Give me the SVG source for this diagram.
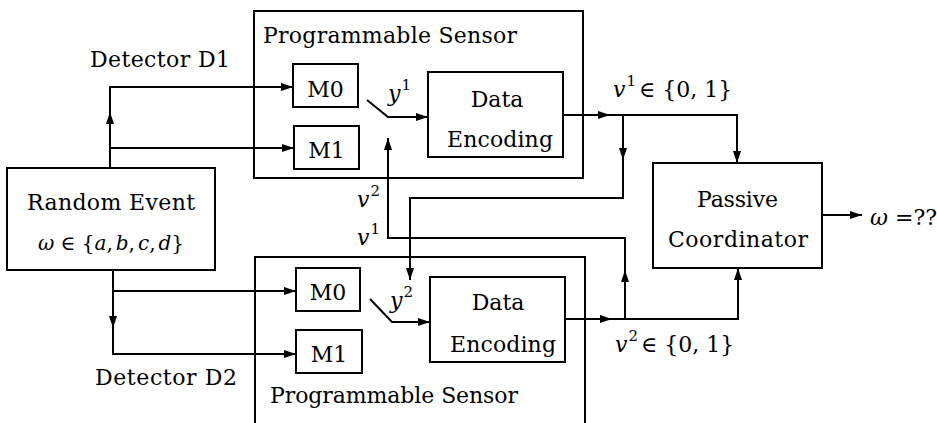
<svg xmlns="http://www.w3.org/2000/svg" width="937" height="423" viewBox="0 0 937 423">
<defs>
<marker id="ah" viewBox="0 0 12 8" refX="12" refY="4" markerWidth="12" markerHeight="8" markerUnits="userSpaceOnUse" orient="auto">
<path d="M0,0 L12,4 L0,8 z" fill="#000"/>
</marker>
<style>
.box{fill:none;stroke:#000;stroke-width:2}
.ar{fill:none;stroke:#000;stroke-width:2;marker-end:url(#ah)}
.t{font-family:'DejaVu Serif',serif;font-size:22px;fill:#000}
.s{font-size:20px}
.m{font-style:italic}
.sup{font-size:15px;font-style:normal}
</style>
</defs>
<rect width="937" height="423" fill="#fff"/>
<g id="sensor1">
<rect class="box" x="254" y="11" width="329" height="167"/>
<text class="t" x="263" y="43" textLength="254">Programmable Sensor</text>
</g>
<g id="sensor1-m0">
<rect class="box" x="293" y="64" width="65" height="43"/>
<text class="t" x="325.5" y="97" text-anchor="middle">M0</text>
</g>
<g id="sensor1-m1">
<rect class="box" x="294" y="126" width="65" height="43"/>
<text class="t" x="326.5" y="158" text-anchor="middle">M1</text>
</g>
<g id="sensor1-enc">
<rect class="box" x="428" y="72" width="135" height="85"/>
<text class="t" x="497" y="107" text-anchor="middle">Data</text>
<text class="t" x="447" y="147" textLength="106">Encoding</text>
</g>
<g id="sensor2">
<rect class="box" x="255" y="257" width="330" height="170"/>
<text class="t" x="270" y="403" textLength="248">Programmable Sensor</text>
</g>
<g id="sensor2-m0">
<rect class="box" x="296" y="268" width="64" height="43"/>
<text class="t" x="328" y="300" text-anchor="middle">M0</text>
</g>
<g id="sensor2-m1">
<rect class="box" x="296" y="330" width="66" height="43"/>
<text class="t" x="329" y="362" text-anchor="middle">M1</text>
</g>
<g id="sensor2-enc">
<rect class="box" x="430" y="277" width="135" height="85"/>
<text class="t" x="498" y="310" text-anchor="middle">Data</text>
<text class="t" x="450" y="352" textLength="106">Encoding</text>
</g>
<g id="random-event">
<rect class="box" x="7" y="168" width="208" height="102"/>
<text class="t" x="27" y="210" textLength="168">Random Event</text>
<text class="t s" x="111" y="250" text-anchor="middle"><tspan class="m">ω</tspan> ∈ {<tspan class="m">a</tspan>,<tspan class="m" dx="3">b</tspan>,<tspan class="m" dx="3">c</tspan>,<tspan class="m" dx="3">d</tspan>}</text>
</g>
<g id="coordinator">
<rect class="box" x="653" y="163" width="169" height="105"/>
<text class="t" x="697" y="207" textLength="81">Passive</text>
<text class="t" x="668" y="247" textLength="140">Coordinator</text>
</g>
<g id="connectors">
<line class="ar" x1="110" y1="168" x2="110" y2="112"/>
<polyline class="ar" points="110,113 110,87 293,87"/>
<line class="ar" x1="110" y1="148" x2="294" y2="148"/>
<line class="ar" x1="113" y1="270" x2="113" y2="328"/>
<polyline class="ar" points="113,327 113,354 296,354"/>
<line class="ar" x1="113" y1="291" x2="296" y2="291"/>
<polyline class="ar" points="367,100 388,117 428,117"/>
<polyline class="ar" points="370,299 392,322 430,322"/>
<line class="ar" x1="563" y1="115" x2="610" y2="115"/>
<polyline class="ar" points="609,115 737,115 737,163"/>
<line class="ar" x1="623" y1="115" x2="623" y2="160"/>
<polyline class="ar" points="623,159 623,198 410,198 410,280"/>
<line class="ar" x1="565" y1="319" x2="612" y2="319"/>
<polyline class="ar" points="611,319 738,319 738,268"/>
<line class="ar" x1="625" y1="319" x2="625" y2="270"/>
<polyline class="ar" points="625,271 625,238 388,238 388,138"/>
<line class="ar" x1="822" y1="215" x2="862" y2="215"/>
</g>
<g id="labels">
<text class="t" x="90" y="67" textLength="140">Detector D1</text>
<text class="t" x="95" y="385" textLength="142">Detector D2</text>
<text class="t" x="388" y="101"><tspan class="m">y</tspan><tspan class="sup" dx="1" dy="-11">1</tspan></text>
<text class="t" x="390" y="308"><tspan class="m">y</tspan><tspan class="sup" dx="1" dy="-11">2</tspan></text>
<text class="t" x="357" y="207"><tspan class="m">v</tspan><tspan class="sup" dx="1" dy="-11">2</tspan></text>
<text class="t" x="357" y="245"><tspan class="m">v</tspan><tspan class="sup" dx="1" dy="-11">1</tspan></text>
<text class="t" x="613" y="97"><tspan class="m">v</tspan><tspan class="sup" dx="1" dy="-11">1</tspan><tspan dy="11" dx="3">∈ {0, 1}</tspan></text>
<text class="t" x="615" y="352"><tspan class="m">v</tspan><tspan class="sup" dx="1" dy="-11">2</tspan><tspan dy="11" dx="3">∈ {0, 1}</tspan></text>
<text class="t" x="870" y="225"><tspan class="m">ω</tspan> =??</text>
</g>
</svg>
